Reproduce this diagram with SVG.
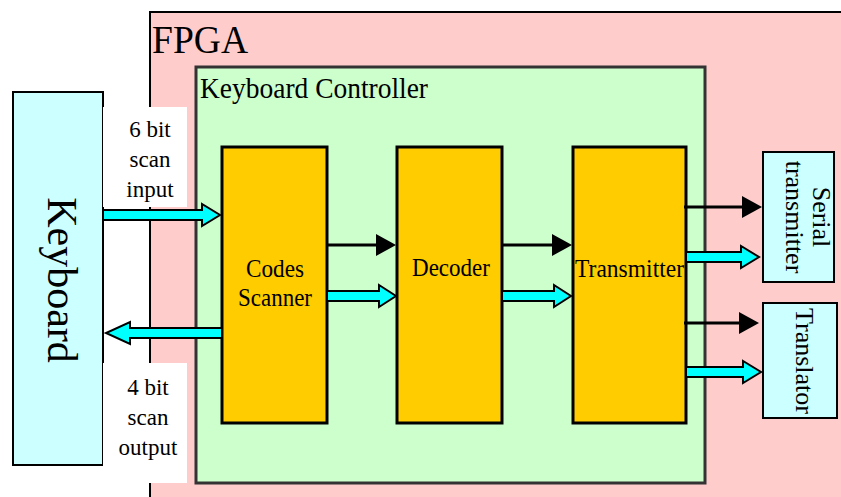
<svg xmlns="http://www.w3.org/2000/svg" width="841" height="497" viewBox="0 0 841 497">
<defs>
<style>
text{font-family:"Liberation Serif","Times New Roman",serif;fill:#000}
.blk{fill:#FFCC00;stroke:#000;stroke-width:3}
.ext{fill:#CCFFFF;stroke:#000;stroke-width:2}
.cy{fill:#00FFFF;stroke:#000;stroke-width:2;stroke-linejoin:miter}
.bl{stroke:#000;stroke-width:3;fill:none}
.lbl{font-size:23px;text-anchor:middle}
.bt{font-size:25px;text-anchor:middle}
</style>
<marker id="ah" markerUnits="userSpaceOnUse" markerWidth="20" markerHeight="22" refX="10" refY="11" orient="auto" viewBox="0 0 20 22">
<path d="M0,0 L20,11 L0,22 z" fill="#000"/>
</marker>
</defs>
<rect width="841" height="497" fill="#fff"/>
<g id="fpga">
<rect x="150" y="12" width="700" height="500" fill="#FFCCCC" stroke="#000" stroke-width="2"/>
<text x="152" y="53" font-size="41" textLength="96" lengthAdjust="spacingAndGlyphs">FPGA</text>
</g>
<g id="keyboard-controller">
<rect x="196" y="67" width="509" height="416" fill="#CCFFCC" stroke="#333" stroke-width="3"/>
<text x="200" y="98" font-size="29" textLength="228" lengthAdjust="spacingAndGlyphs">Keyboard Controller</text>
</g>
<g id="keyboard">
<rect class="ext" x="13" y="92" width="90" height="373"/>
<text transform="translate(48,280) rotate(90)" font-size="42" text-anchor="middle">Keyboard</text>
</g>
<g id="label-input">
<rect x="103" y="107" width="84" height="100" fill="#fff"/>
<text class="lbl" x="150" y="137">6 bit</text>
<text class="lbl" x="150" y="167">scan</text>
<text class="lbl" x="150" y="197">input</text>
</g>
<g id="label-output">
<rect x="103" y="363" width="84" height="120" fill="#fff"/>
<text class="lbl" x="148" y="395">4 bit</text>
<text class="lbl" x="148" y="425">scan</text>
<text class="lbl" x="148" y="455">output</text>
</g>
<g id="codes-scanner">
<rect class="blk" x="222" y="147" width="105" height="276"/>
<text class="bt" x="275" y="277" textLength="58" lengthAdjust="spacingAndGlyphs">Codes</text>
<text class="bt" x="275" y="306" textLength="74" lengthAdjust="spacingAndGlyphs">Scanner</text>
</g>
<g id="decoder">
<rect class="blk" x="397" y="147" width="105" height="276"/>
<text class="bt" x="451" y="276" textLength="78" lengthAdjust="spacingAndGlyphs">Decoder</text>
</g>
<g id="transmitter">
<rect class="blk" x="573" y="147" width="113" height="276"/>
<text class="bt" x="629.5" y="277" textLength="109" lengthAdjust="spacingAndGlyphs">Transmitter</text>
</g>
<g id="serial-transmitter">
<rect class="ext" x="763" y="152" width="71" height="130"/>
<text transform="translate(813,217) rotate(90)" font-size="26" text-anchor="middle">Serial</text>
<text transform="translate(786,217) rotate(90)" font-size="26" text-anchor="middle">transmitter</text>
</g>
<g id="translator">
<rect class="ext" x="763" y="303" width="74" height="115"/>
<text transform="translate(796,361) rotate(90)" font-size="26" text-anchor="middle">Translator</text>
</g>
<g id="connectors">
<polygon class="cy" points="103,210 202,210 202,204 220,215 202,226 202,220 103,220"/>
<polygon class="cy" points="222,328 130,328 130,322 106,333 130,344 130,338 222,338"/>
<line class="bl" x1="327" y1="245" x2="386" y2="245" marker-end="url(#ah)"/>
<polygon class="cy" points="327,291 379,291 379,285 396,296 379,307 379,301 327,301"/>
<line class="bl" x1="502" y1="245" x2="562" y2="245" marker-end="url(#ah)"/>
<polygon class="cy" points="502,291 554,291 554,285 571,296 554,307 554,301 502,301"/>
<line class="bl" x1="684" y1="207" x2="752" y2="207" marker-end="url(#ah)"/>
<polygon class="cy" points="686,252 741,252 741,246 759,257 741,268 741,262 686,262"/>
<line class="bl" x1="684" y1="323" x2="749" y2="323" marker-end="url(#ah)"/>
<polygon class="cy" points="686,367 743,367 743,361 761,372 743,383 743,377 686,377"/>
</g>
</svg>
